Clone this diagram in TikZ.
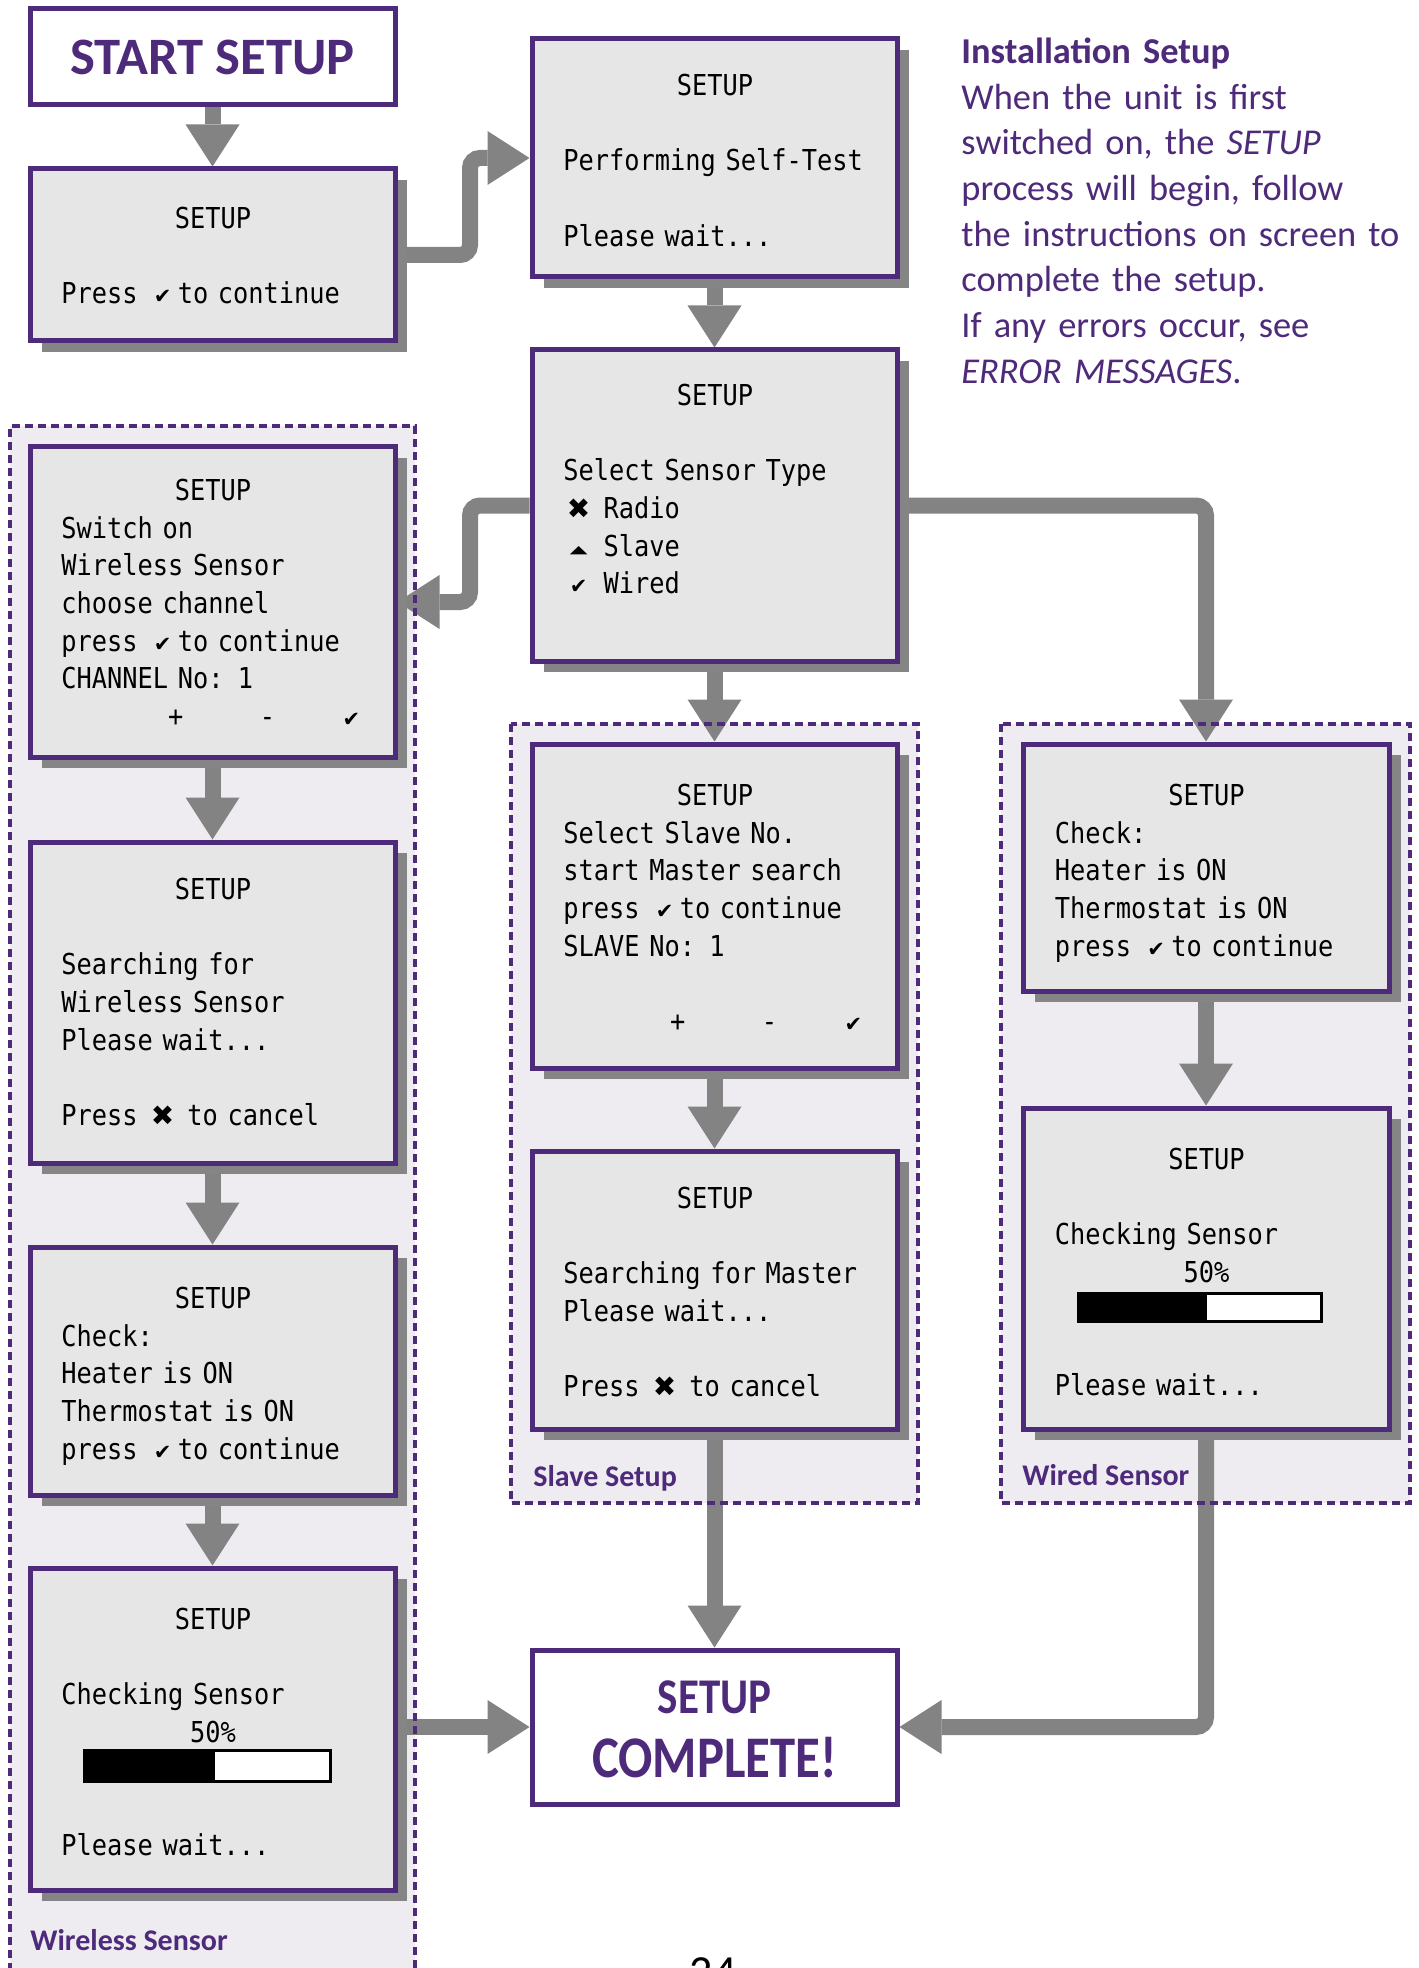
\documentclass[tikz,border=0pt]{standalone}
\usepackage{fontspec}
\usepackage{graphicx}
\usetikzlibrary{arrows.meta,shadows}
\newfontfamily\lcdf{DejaVu Sans Mono}[FakeStretch=0.88]
\newfontfamily\symf{DejaVu Sans}
\newfontfamily\calf{Carlito}
\newfontfamily\calcf{Carlito}[FakeStretch=0.86]
\definecolor{pur}{HTML}{4E2A7A}
\definecolor{boxfill}{HTML}{E6E6E6}
\definecolor{regfill}{HTML}{EEEBF1}
\definecolor{shgrey}{HTML}{858585}
\definecolor{argrey}{HTML}{838383}
\pgfdeclarelayer{back}
\pgfdeclarelayer{conn}
\pgfsetlayers{back,conn,main}
\setlength\parindent{0pt}
\newcommand\twocell[1]{\makebox[2\fontcharwd\font`M][c]{#1}}
\newcommand\chk{\twocell{\symf\fontsize{10.5pt}{10.5pt}\selectfont ✔}}
\newcommand\crs{\twocell{\symf\fontsize{14pt}{14pt}\selectfont ✖}}
\newcommand\tri{\twocell{\raisebox{1.5pt}{\scalebox{1.05}[0.5]{\symf\fontsize{11pt}{11pt}\selectfont ▲}}}}
\newcommand\msp[1]{\hspace*{#1\fontcharwd\font`M}}
\newcommand\ttl{\strut\makebox[\hsize][c]{SETUP}}
\newcommand\keysline{\makebox[\hsize][l]{\msp{7}+\msp{5}-\msp{4}\chk}}
\tikzset{
  scr/.style={draw=pur, line width=2.5pt, fill=boxfill, inner sep=0pt,
    general shadow={fill=shgrey, shadow xshift=6pt, shadow yshift=-5.5pt}},
  endbox/.style={draw=pur, line width=2.5pt, fill=white, inner sep=0pt},
  region/.style={draw=pur, line width=2pt, dash pattern=on 4pt off 2.5pt},
  conn/.style={draw=argrey, line width=8pt, rounded corners=5pt,
    -{Triangle[length=21pt,width=27pt,line width=0pt]}},
  lcdtext/.style={anchor=north west, inner sep=0pt, yshift=13.195pt, align=left,
    text width=151.5pt, font={\lcdf\fontsize{14.4pt}{18.85pt}\selectfont}},
  infotext/.style={anchor=north west, inner sep=0pt, yshift=16pt, align=left,
    text width=240pt, text=pur, font={\calf\fontsize{18.2pt}{22.85pt}\selectfont}},
  lbl/.style={anchor=base west, inner sep=0pt, text=pur,
    font={\calf\bfseries\fontsize{15pt}{18pt}\selectfont}},
  bigtitle/.style={text=pur, font={\calf\bfseries\fontsize{26.3pt}{30pt}\selectfont}},
  comptitle/.style={anchor=base, inner sep=0pt, text=pur},
}
\begin{document}
\begin{tikzpicture}[x=0.5pt,y=-0.5pt]
\useasboundingbox (0,0) rectangle (1418,1968);
\begin{pgfonlayer}{back}
  \fill[white] (0,0) rectangle (1418,1968);
  \fill[regfill] (10,426) rectangle (415,2010);
  \fill[regfill] (511,724) rectangle (918,1503);
  \fill[regfill] (1001,724) rectangle (1410,1503);
\end{pgfonlayer}
\draw[region] (10,2010) -- (10,426) -- (415,426) -- (415,2010);
\draw[region] (511,724) rectangle (918,1503);
\draw[region] (1001,724) rectangle (1410,1503);

% boxes
\node[endbox, bigtitle, minimum width=182.5pt, minimum height=48pt] (start) at (212.5,57) {START SETUP};
\node[scr, minimum width=182.5pt, minimum height=86pt] (b1) at (212.5,255) {};
\node[scr, minimum width=182.5pt, minimum height=119pt] (b2) at (714.5,158) {};
\node[scr, minimum width=182.5pt, minimum height=155.5pt] (b3) at (714.5,505.5) {};
\node[scr, minimum width=182.5pt, minimum height=155pt] (w1) at (212.5,602) {};
\node[scr, minimum width=182.5pt, minimum height=160.5pt] (w2) at (212.5,1002.5) {};
\node[scr, minimum width=182.5pt, minimum height=124pt] (w3) at (212.5,1371) {};
\node[scr, minimum width=182.5pt, minimum height=161pt] (w4) at (212.5,1729) {};
\node[scr, minimum width=182.5pt, minimum height=162pt] (s1) at (714.5,906) {};
\node[scr, minimum width=182.5pt, minimum height=139pt] (s2) at (714.5,1290) {};
\node[scr, minimum width=183pt, minimum height=123.5pt] (r1) at (1206,867.5) {};
\node[scr, minimum width=183pt, minimum height=160.5pt] (r2) at (1206,1268.5) {};
\node[endbox, minimum width=182.5pt, minimum height=77pt] (comp) at (714.5,1727) {};

\node[comptitle, font={\calcf\bfseries\fontsize{25pt}{30pt}\selectfont}] (compa) at (714.5,1713) {SETUP};
\node[comptitle, font={\calcf\bfseries\fontsize{29.5pt}{34pt}\selectfont}] (compb) at (714.5,1777) {COMPLETE!};

% screen texts
\node[lcdtext] (b1t) at (61,228) {\ttl\\[18.85pt]Press \chk to continue};
\node[lcdtext] (b2t) at (563,95) {\ttl\\[18.85pt]Performing Self-Test\\[18.85pt]Please wait...};
\node[lcdtext] (b3t) at (563,405) {\ttl\\[18.85pt]Select Sensor Type\\\crs{} Radio\\\tri{} Slave\\\chk{} Wired};
\node[lcdtext] (w1t) at (61,500) {\ttl\\Switch on\\Wireless Sensor\\choose channel\\press \chk to continue\\CHANNEL No: 1\\\keysline};
\node[lcdtext] (w2t) at (61,899) {\ttl\\[18.85pt]Searching for\\Wireless Sensor\\Please wait...\\[18.85pt]Press \crs{} to cancel};
\node[lcdtext] (w3t) at (61,1308) {\ttl\\Check:\\Heater is ON\\Thermostat is ON\\press \chk to continue};
\node[lcdtext] (w4t) at (61,1629) {\ttl\\[18.85pt]Checking Sensor\\\makebox[\hsize][c]{50\%}\\[37.7pt]Please wait...};
\node[lcdtext] (s1t) at (563,805) {\ttl\\Select Slave No.\\start Master search\\press \chk to continue\\SLAVE No: 1\\[18.85pt]\keysline};
\node[lcdtext] (s2t) at (563,1208) {\ttl\\[18.85pt]Searching for Master\\Please wait...\\[18.85pt]Press \crs{} to cancel};
\node[lcdtext] (r1t) at (1054.5,805) {\ttl\\Check:\\Heater is ON\\Thermostat is ON\\press \chk to continue};
\node[lcdtext] (r2t) at (1054.5,1169) {\ttl\\[18.85pt]Checking Sensor\\\makebox[\hsize][c]{50\%}\\[37.7pt]Please wait...};

% progress bars
\draw[line width=1.5pt, fill=white] (84.5,1750.5) rectangle (330.5,1781.5);
\fill[black] (84.5,1750.5) rectangle (215,1781.5);
\draw[line width=1.5pt, fill=white] (1078.5,1293.5) rectangle (1321.5,1321.5);
\fill[black] (1078.5,1293.5) rectangle (1207,1321.5);

% labels
\node[lbl] (lw) at (30,1950) {Wireless Sensor};
\node[lbl] (ls) at (533,1486) {Slave Setup};
\node[lbl] (lr) at (1022,1485) {Wired Sensor};

\node[infotext] (info) at (961,63) {\strut\textbf{Installation Setup}\\
When the unit is first\\
switched on, the \textit{SETUP}\\
process will begin, follow\\
the instructions on screen to\\
complete the setup.\\
If any errors occur, see\\
\textit{ERROR MESSAGES}.};

\node[anchor=base, inner sep=0pt, font={\calf\fontsize{23pt}{23pt}\selectfont}] (pg) at (713,1987) {24};

% connectors
\coordinate (e1) at (470,158);
\coordinate (e2) at (470,602);
\begin{pgfonlayer}{conn}
  \draw[conn] (start.south) -- (b1.north);
  \draw[conn] (b1.east) -| (e1) -- (b2.west);
  \draw[conn] (b2.south) -- (b3.north);
  \draw[conn] (b3.west) -| (e2) -- (w1.east);
  \draw[conn] (b3.east) -| (r1.north);
  \draw[conn] (b3.south) -- (s1.north);
  \draw[conn] (w1.south) -- (w2.north);
  \draw[conn] (w2.south) -- (w3.north);
  \draw[conn] (w3.south) -- (w4.north);
  \draw[conn] (s1.south) -- (s2.north);
  \draw[conn] (r1.south) -- (r2.north);
  \draw[conn] (s2.south) -- (comp.north);
  \draw[conn] (r2.south) |- (comp.east);
  \draw[conn] (w4.east |- comp.west) -- (comp.west);
\end{pgfonlayer}
\end{tikzpicture}
\end{document}
